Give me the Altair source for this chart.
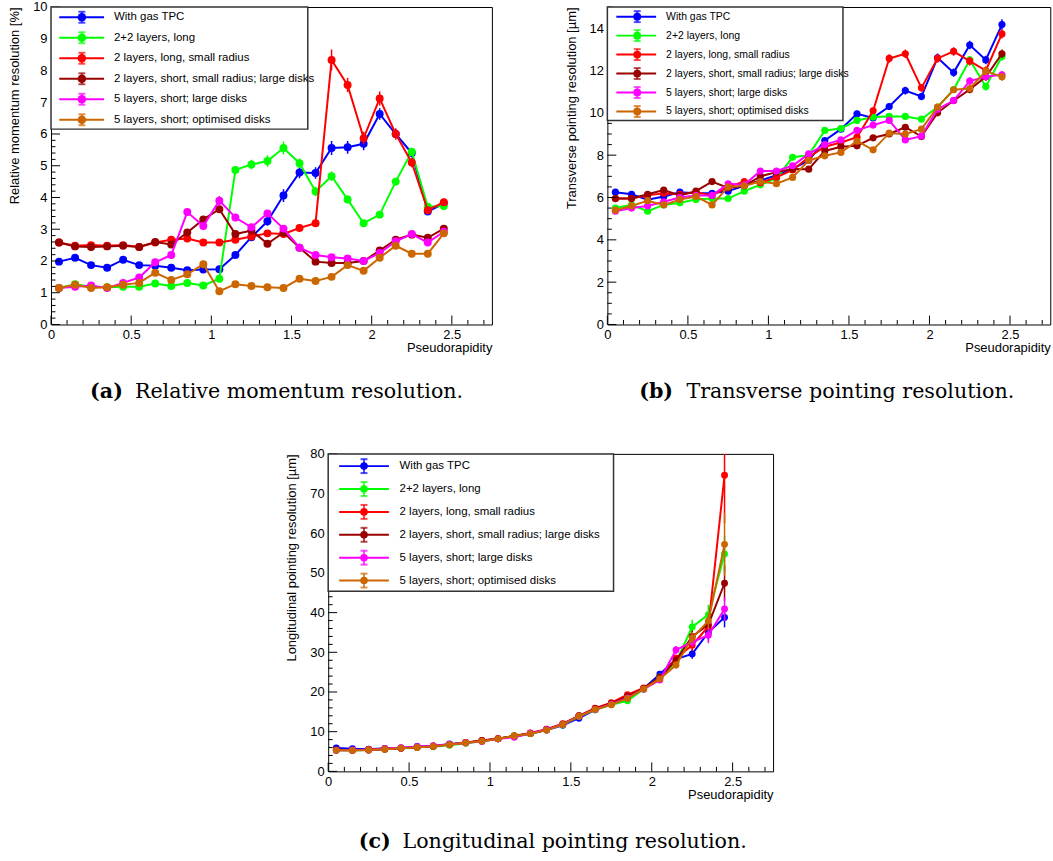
import altair as alt
import pandas as pd

FONT = "Liberation Sans"
SERIF = "DejaVu Serif"

ETA = [0.05, 0.15, 0.25, 0.35, 0.45, 0.55, 0.65, 0.75, 0.85, 0.95, 1.05, 1.15, 1.25,
       1.35, 1.45, 1.55, 1.65, 1.75, 1.85, 1.95, 2.05, 2.15, 2.25, 2.35, 2.45]
SERIES = ["With gas TPC", "2+2 layers, long", "2 layers, long, small radius",
          "2 layers, short, small radius; large disks", "5 layers, short; large disks",
          "5 layers, short; optimised disks"]
COLORS = ["#0000ff", "#00ff00", "#ff0000", "#990000", "#ff00ff", "#cc6600"]

# (a) relative momentum resolution [%]
MOM_TPC = [1.98, 2.1, 1.87, 1.79, 2.04, 1.87, 1.85, 1.79, 1.71, 1.73, 1.74, 2.19, 2.75, 3.25, 4.06, 4.79, 4.77, 5.56, 5.58, 5.69, 6.63, 6.0, 5.4, 3.56, 3.81]
MOM_22 = [1.15, 1.27, 1.19, 1.17, 1.19, 1.19, 1.29, 1.21, 1.31, 1.23, 1.44, 4.87, 5.04, 5.15, 5.56, 5.08, 4.19, 4.67, 3.94, 3.19, 3.46, 4.5, 5.44, 3.71, 3.73]
MOM_2L = [2.58, 2.48, 2.5, 2.48, 2.5, 2.44, 2.58, 2.67, 2.71, 2.58, 2.58, 2.67, 2.77, 2.87, 2.85, 3.04, 3.19, 8.33, 7.54, 5.87, 7.12, 6.0, 5.1, 3.6, 3.85]
MOM_2S = [2.58, 2.46, 2.44, 2.46, 2.48, 2.44, 2.6, 2.52, 2.9, 3.31, 3.63, 2.85, 2.96, 2.54, 2.9, 2.42, 1.98, 1.94, 1.94, 2.0, 2.33, 2.67, 2.83, 2.73, 3.02]
MOM_5L = [1.15, 1.19, 1.23, 1.15, 1.31, 1.48, 1.96, 2.19, 3.54, 3.1, 3.9, 3.37, 3.06, 3.5, 3.02, 2.42, 2.19, 2.12, 2.08, 2.0, 2.25, 2.62, 2.85, 2.58, 2.92]
MOM_5O = [1.15, 1.25, 1.15, 1.17, 1.25, 1.31, 1.63, 1.4, 1.58, 1.9, 1.05, 1.27, 1.21, 1.17, 1.15, 1.44, 1.37, 1.5, 1.87, 1.69, 2.1, 2.48, 2.23, 2.23, 2.87]
MOM_TPC_ERR = [0.03, 0.03, 0.03, 0.03, 0.03, 0.03, 0.03, 0.03, 0.03, 0.04, 0.05, 0.08, 0.1, 0.14, 0.2, 0.18, 0.18, 0.22, 0.2, 0.2, 0.18, 0.15, 0.13, 0.1, 0.1]
MOM_22_ERR = [0.02, 0.02, 0.02, 0.02, 0.02, 0.02, 0.03, 0.03, 0.03, 0.03, 0.05, 0.12, 0.15, 0.18, 0.2, 0.15, 0.15, 0.15, 0.12, 0.1, 0.1, 0.12, 0.12, 0.1, 0.1]
MOM_2L_ERR = [0.04, 0.04, 0.04, 0.04, 0.04, 0.04, 0.04, 0.05, 0.05, 0.05, 0.05, 0.06, 0.07, 0.08, 0.08, 0.08, 0.08, 0.33, 0.22, 0.2, 0.22, 0.18, 0.15, 0.1, 0.12]
MOM_2S_ERR = [0.04, 0.04, 0.04, 0.04, 0.04, 0.04, 0.05, 0.05, 0.08, 0.1, 0.12, 0.08, 0.08, 0.08, 0.08, 0.06, 0.05, 0.05, 0.05, 0.05, 0.06, 0.07, 0.07, 0.07, 0.08]
MOM_5L_ERR = [0.02, 0.02, 0.02, 0.02, 0.03, 0.04, 0.05, 0.06, 0.12, 0.1, 0.15, 0.1, 0.08, 0.1, 0.08, 0.06, 0.05, 0.05, 0.05, 0.05, 0.06, 0.07, 0.07, 0.07, 0.08]
MOM_5O_ERR = [0.02, 0.02, 0.02, 0.02, 0.02, 0.03, 0.04, 0.03, 0.04, 0.05, 0.03, 0.03, 0.03, 0.03, 0.03, 0.04, 0.04, 0.04, 0.05, 0.05, 0.05, 0.06, 0.06, 0.06, 0.07]

# (b) transverse pointing resolution [um]
TR_TPC = [6.25, 6.15, 5.9, 6.05, 6.25, 6.2, 6.2, 6.3, 6.55, 6.8, 7.05, 7.35, 7.75, 8.69, 9.23, 9.95, 9.76, 10.3, 11.05, 10.77, 12.6, 11.9, 13.2, 12.5, 14.17]
TR_22 = [5.5, 5.65, 5.35, 5.65, 5.75, 5.9, 5.95, 5.95, 6.3, 6.6, 6.9, 7.9, 8.0, 9.17, 9.26, 9.64, 9.8, 9.83, 9.83, 9.7, 10.27, 11.1, 12.5, 11.24, 12.66]
TR_2L = [5.95, 5.95, 6.1, 6.2, 6.15, 6.25, 6.1, 6.5, 6.75, 6.7, 6.95, 7.3, 7.9, 8.4, 8.6, 8.85, 10.1, 12.57, 12.79, 11.18, 12.57, 12.9, 12.44, 12.0, 13.73]
TR_2S = [5.95, 5.95, 6.15, 6.35, 6.1, 6.3, 6.75, 6.45, 6.55, 7.0, 7.2, 7.35, 7.34, 8.2, 8.4, 8.44, 8.82, 9.0, 9.32, 8.88, 10.0, 10.58, 11.1, 11.7, 12.79]
TR_5L = [5.35, 5.5, 5.6, 5.8, 6.0, 6.1, 6.1, 6.65, 6.6, 7.25, 7.25, 7.5, 8.06, 8.5, 8.72, 9.17, 9.42, 9.64, 8.72, 8.9, 10.17, 10.58, 11.5, 11.7, 11.8]
TR_5O = [5.4, 5.6, 5.85, 5.65, 5.9, 6.05, 5.65, 6.5, 6.55, 6.75, 6.65, 6.95, 7.75, 7.97, 8.13, 8.66, 8.25, 9.04, 9.0, 9.23, 10.27, 11.09, 11.15, 11.97, 11.7]
TR_TPC_ERR = [0.08, 0.08, 0.08, 0.08, 0.08, 0.08, 0.08, 0.08, 0.08, 0.08, 0.08, 0.1, 0.1, 0.12, 0.12, 0.15, 0.15, 0.15, 0.18, 0.18, 0.2, 0.2, 0.2, 0.2, 0.25]
TR_22_ERR = [0.08, 0.08, 0.08, 0.08, 0.08, 0.08, 0.08, 0.08, 0.08, 0.08, 0.08, 0.1, 0.1, 0.1, 0.12, 0.12, 0.12, 0.12, 0.12, 0.12, 0.15, 0.15, 0.18, 0.18, 0.2]
TR_2L_ERR = [0.08, 0.08, 0.08, 0.08, 0.08, 0.08, 0.08, 0.08, 0.08, 0.08, 0.08, 0.1, 0.1, 0.1, 0.12, 0.12, 0.15, 0.2, 0.2, 0.18, 0.2, 0.2, 0.2, 0.2, 0.22]
TR_2S_ERR = [0.08, 0.08, 0.08, 0.08, 0.08, 0.08, 0.08, 0.08, 0.08, 0.08, 0.08, 0.1, 0.1, 0.1, 0.1, 0.12, 0.12, 0.12, 0.15, 0.15, 0.15, 0.15, 0.18, 0.18, 0.2]
TR_5L_ERR = [0.08, 0.08, 0.08, 0.08, 0.08, 0.08, 0.08, 0.08, 0.08, 0.08, 0.08, 0.1, 0.1, 0.1, 0.1, 0.12, 0.12, 0.12, 0.15, 0.15, 0.15, 0.15, 0.18, 0.18, 0.18]
TR_5O_ERR = [0.08, 0.08, 0.08, 0.08, 0.08, 0.08, 0.08, 0.08, 0.08, 0.08, 0.08, 0.1, 0.1, 0.1, 0.1, 0.12, 0.12, 0.12, 0.15, 0.15, 0.15, 0.15, 0.18, 0.18, 0.18]

# (c) longitudinal pointing resolution [um]
LO_TPC = [5.9, 5.7, 5.6, 5.8, 5.9, 6.3, 6.4, 6.9, 7.2, 7.7, 8.2, 8.8, 9.5, 10.4, 11.6, 13.4, 15.5, 17.0, 18.8, 20.9, 24.5, 28.3, 29.6, 35.0, 38.8]
LO_22 = [5.3, 5.3, 5.4, 5.6, 5.8, 6.1, 6.2, 6.6, 7.1, 7.6, 8.2, 9.0, 9.5, 10.5, 11.7, 13.8, 15.5, 16.8, 17.8, 20.7, 23.8, 27.5, 36.4, 39.5, 54.8]
LO_2L = [5.4, 5.3, 5.5, 5.7, 5.9, 6.1, 6.4, 6.8, 7.3, 7.8, 8.3, 8.9, 9.7, 10.6, 12.0, 14.0, 15.9, 17.3, 19.3, 21.0, 23.5, 28.5, 31.8, 36.5, 74.6]
LO_2S = [5.4, 5.3, 5.4, 5.6, 5.8, 6.1, 6.3, 6.8, 7.2, 7.7, 8.2, 8.9, 9.6, 10.5, 11.9, 14.0, 15.8, 17.1, 18.9, 20.9, 23.7, 28.0, 34.0, 37.0, 47.4]
LO_5L = [5.3, 5.4, 5.4, 5.7, 5.9, 6.2, 6.4, 6.8, 7.2, 7.5, 8.2, 8.6, 9.6, 10.5, 11.8, 13.9, 15.6, 16.9, 18.5, 20.7, 23.0, 30.6, 32.6, 34.3, 40.9]
LO_5O = [5.3, 5.3, 5.4, 5.6, 5.8, 6.0, 6.3, 6.7, 7.2, 7.6, 8.2, 8.9, 9.5, 10.4, 11.8, 13.9, 15.6, 16.8, 18.4, 20.8, 23.3, 26.8, 33.6, 37.9, 57.2]
LO_TPC_ERR = [0.1, 0.1, 0.1, 0.1, 0.1, 0.1, 0.1, 0.1, 0.1, 0.12, 0.12, 0.15, 0.15, 0.2, 0.2, 0.25, 0.3, 0.35, 0.4, 0.5, 0.6, 0.9, 1.2, 2.0, 2.5]
LO_22_ERR = [0.1, 0.1, 0.1, 0.1, 0.1, 0.1, 0.1, 0.1, 0.1, 0.12, 0.12, 0.15, 0.15, 0.2, 0.2, 0.25, 0.3, 0.35, 0.4, 0.5, 0.6, 0.9, 1.8, 2.5, 4.5]
LO_2L_ERR = [0.1, 0.1, 0.1, 0.1, 0.1, 0.1, 0.1, 0.1, 0.1, 0.12, 0.12, 0.15, 0.15, 0.2, 0.2, 0.25, 0.3, 0.35, 0.4, 0.5, 0.6, 0.9, 1.5, 2.0, 12.0]
LO_2S_ERR = [0.1, 0.1, 0.1, 0.1, 0.1, 0.1, 0.1, 0.1, 0.1, 0.12, 0.12, 0.15, 0.15, 0.2, 0.2, 0.25, 0.3, 0.35, 0.4, 0.5, 0.6, 0.9, 1.5, 2.0, 4.5]
LO_5L_ERR = [0.1, 0.1, 0.1, 0.1, 0.1, 0.1, 0.1, 0.1, 0.1, 0.12, 0.12, 0.15, 0.15, 0.2, 0.2, 0.25, 0.3, 0.35, 0.4, 0.5, 0.6, 1.0, 1.2, 2.0, 3.0]
LO_5O_ERR = [0.1, 0.1, 0.1, 0.1, 0.1, 0.1, 0.1, 0.1, 0.1, 0.12, 0.12, 0.15, 0.15, 0.2, 0.2, 0.25, 0.3, 0.35, 0.4, 0.5, 0.6, 0.9, 1.5, 2.0, 8.0]

X_MAJOR = [0, 0.5, 1, 1.5, 2, 2.5]
X_MINOR = [round(i * 0.1, 1) for i in range(28) if i % 5]
A_YLAB = [0, 1, 2, 3, 4, 5, 6, 7, 8, 9, 10]
A_YMIN = [round(i * 0.2, 1) for i in range(51) if i % 5]
B_YLAB = [0, 2, 4, 6, 8, 10, 12, 14]
B_YMIN = [round(i * 0.5, 1) for i in range(31) if i % 4]
C_YLAB = [0, 10, 20, 30, 40, 50, 60, 70, 80]
C_YMIN = [i * 2 for i in range(41) if i % 5]


def panel(vals, errs, ymax, ylab, ymin, ytitle, W, H, msize, leg, cap):
    xsc = alt.Scale(domain=[0, 2.75], nice=False, zero=False)
    ysc = alt.Scale(domain=[0, ymax], nice=False, zero=False)
    xax = alt.Axis(values=X_MAJOR, format="~g", title="Pseudorapidity", titleAnchor="end",
                   ticks=False, domain=False, grid=False, labelFontSize=13, titleFontSize=13,
                   labelPadding=4, titlePadding=0, labelFlush=False)
    yax = alt.Axis(values=ylab, format="d", title=ytitle, titleAnchor="end", ticks=False,
                   domain=False, grid=False, labelFontSize=13, titleFontSize=13,
                   labelPadding=4, titlePadding=11, labelFlush=False)

    def X(f):
        return alt.X(f, type="quantitative", scale=xsc, axis=xax)

    def Y(f):
        return alt.Y(f, type="quantitative", scale=ysc, axis=yax)

    layers = []
    for col, v, e in zip(COLORS, vals, errs):
        df = pd.DataFrame({"eta": ETA, "val": v,
                           "lo": [a - b for a, b in zip(v, e)],
                           "hi": [a + b for a, b in zip(v, e)]})
        base = alt.Chart(df)
        layers.append(base.mark_rule(color=col, strokeWidth=1.5, clip=True)
                      .encode(x=X("eta"), y=Y("lo"), y2="hi"))
        layers.append(base.mark_line(color=col, strokeWidth=2, clip=True)
                      .encode(x=X("eta"), y=Y("val")))
        layers.append(base.mark_circle(color=col, size=msize, opacity=1, clip=True)
                      .encode(x=X("eta"), y=Y("val")))
    # inward ticks (ROOT style)
    layers.append(alt.Chart(pd.DataFrame({"v": X_MAJOR})).mark_rule(color="black", strokeWidth=1)
                  .encode(x=X("v"), y=alt.value(H), y2=alt.value(H - 9)))
    layers.append(alt.Chart(pd.DataFrame({"v": X_MINOR})).mark_rule(color="black", strokeWidth=1)
                  .encode(x=X("v"), y=alt.value(H), y2=alt.value(H - 4.5)))
    layers.append(alt.Chart(pd.DataFrame({"v": ylab})).mark_rule(color="black", strokeWidth=1)
                  .encode(y=Y("v"), x=alt.value(0), x2=alt.value(9)))
    layers.append(alt.Chart(pd.DataFrame({"v": ymin})).mark_rule(color="black", strokeWidth=1)
                  .encode(y=Y("v"), x=alt.value(0), x2=alt.value(4.5)))
    data_layer = alt.layer(*layers)

    bw, bh, y0, y1, lx0, lx1, cx, tx, fs, ebar = leg
    ldf = pd.DataFrame({"name": SERIES})
    ly = alt.Y("name:N", scale=alt.Scale(type="point", domain=SERIES, range=[y0, y1], padding=0),
               axis=None)
    lc = alt.Color("name:N", scale=alt.Scale(domain=SERIES, range=COLORS), legend=None)
    one = pd.DataFrame({"a": [0]})
    lbase = alt.Chart(ldf)
    legend_layer = alt.layer(
        alt.Chart(one).mark_rect(fill="white", stroke="#333333", strokeWidth=1.5)
        .encode(x=alt.value(0), x2=alt.value(bw), y=alt.value(0), y2=alt.value(bh)),
        lbase.mark_rule(strokeWidth=2).encode(x=alt.value(lx0), x2=alt.value(lx1), y=ly, color=lc),
        lbase.mark_tick(orient="vertical", size=ebar, thickness=2).encode(x=alt.value(cx), y=ly, color=lc),
        lbase.mark_tick(orient="horizontal", size=7, thickness=2, yOffset=-ebar / 2)
        .encode(x=alt.value(cx), y=ly, color=lc),
        lbase.mark_tick(orient="horizontal", size=7, thickness=2, yOffset=ebar / 2)
        .encode(x=alt.value(cx), y=ly, color=lc),
        lbase.mark_circle(size=msize + 10, opacity=1).encode(x=alt.value(cx), y=ly, color=lc),
        lbase.mark_text(align="left", baseline="middle", font=FONT, fontSize=fs, color="black")
        .encode(x=alt.value(tx), y=ly, text="name:N"),
    )

    tag, txt, px1, px2, py = cap
    cap_layer = alt.layer(
        alt.Chart(one).mark_text(align="left", baseline="middle", font=SERIF, fontSize=20.7,
                                 fontWeight="bold", color="black", text=tag)
        .encode(x=alt.value(px1), y=alt.value(py)),
        alt.Chart(one).mark_text(align="left", baseline="middle", font=SERIF, fontSize=20.7,
                                 color="black", text=txt)
        .encode(x=alt.value(px2), y=alt.value(py)),
    )
    return (alt.layer(data_layer, legend_layer, cap_layer)
            .resolve_scale(y="independent")
            .properties(width=W, height=H))


pa = panel([MOM_TPC, MOM_22, MOM_2L, MOM_2S, MOM_5L, MOM_5O],
           [MOM_TPC_ERR, MOM_22_ERR, MOM_2L_ERR, MOM_2S_ERR, MOM_5L_ERR, MOM_5O_ERR],
           10, A_YLAB, A_YMIN, "Relative momentum resolution [%]", 443, 319, 64,
           (258, 122.7, 10.3, 113.3, 8.3, 53.3, 31, 63.3, 11.5, 11),
           ("(a)", "Relative momentum resolution.", 39.3, 84.3, 387))
pb = panel([TR_TPC, TR_22, TR_2L, TR_2S, TR_5L, TR_5O],
           [TR_TPC_ERR, TR_22_ERR, TR_2L_ERR, TR_2S_ERR, TR_5L_ERR, TR_5O_ERR],
           15, B_YLAB, B_YMIN, "Transverse pointing resolution [µm]", 445, 319, 52,
           (236.7, 114, 9.7, 105, 9, 49, 30, 59, 10.5, 11),
           ("(b)", "Transverse pointing resolution.", 32, 79.4, 387))
pc = panel([LO_TPC, LO_22, LO_2L, LO_2S, LO_5L, LO_5O],
           [LO_TPC_ERR, LO_22_ERR, LO_2L_ERR, LO_2S_ERR, LO_5L_ERR, LO_5O_ERR],
           80, C_YLAB, C_YMIN, "Longitudinal pointing resolution [µm]", 447, 319, 48,
           (286.7, 138, 12.3, 127.3, 11, 61, 36, 71.7, 11.5, 14),
           ("(c)", "Longitudinal pointing resolution.", 30.7, 74.7, 390))

top = alt.hconcat(pa, pb, spacing=72)
chart = (alt.vconcat(top, pc, spacing=44, center=True)
         .properties(padding={"left": 8, "top": -2, "right": 2, "bottom": 2}, background="white")
         .configure_axis(labelFont=FONT, titleFont=FONT, labelColor="black", titleColor="black",
                         titleFontWeight="normal")
         .configure_view(stroke="black", strokeWidth=1))

chart.save("out.html", embed_options={"renderer": "svg", "actions": False})
